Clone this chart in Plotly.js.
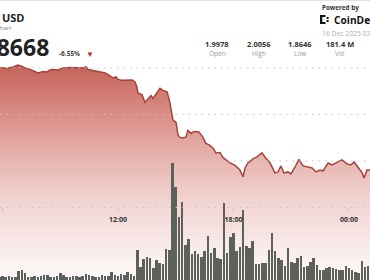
<!DOCTYPE html>
<html>
<head>
<meta charset="utf-8">
<script src="https://cdn.plot.ly/plotly-3.0.1.min.js"></script>
<style>
html,body{margin:0;padding:0;background:#fff;overflow:hidden;}
#chart{width:370px;height:280px;}
</style>
</head>
<body>
<div id="chart"></div>
<script>
// ---- data ----
const priceTimes = ['05:52','06:14','06:33','06:48','07:01','07:10','07:26','07:35','07:51','08:06','08:19','08:28','08:37','08:53','09:09','09:30','09:52','10:11','10:20','10:27','10:42','11:04','11:20','11:35','11:44','11:54','12:00','12:13','12:28','12:44','12:53','12:59','13:02','13:15','13:24','13:34','13:43','13:49','14:02','14:11','14:20','14:33','14:42','14:51','15:01','15:07','15:13','15:23','15:32','15:38','15:48','15:54','16:03','16:12','16:25','16:34','16:44','16:56','17:05','17:18','17:27','17:40','17:49','18:05','18:20','18:30','18:36','18:45','19:01','19:13','19:29','19:38','19:54','20:09','20:19','20:28','20:37','20:50','20:59','21:12','21:24','21:37','21:52','22:05','22:17','22:30','22:39','22:55','23:07','23:23','23:38','23:54','00:06','00:16','00:28','00:41','00:47','00:56','01:06'];
const prices = [2.0005,1.9995,2.0011,2.0032,2.0016,2.0000,1.9984,1.9968,1.9946,1.9962,1.9957,1.9978,1.9984,1.9978,2.0000,2.0005,2.0005,2.0000,2.0011,1.9984,1.9973,1.9962,1.9946,1.9914,1.9892,1.9903,1.9876,1.9866,1.9871,1.9871,1.9849,1.9796,1.9731,1.9710,1.9629,1.9672,1.9704,1.9672,1.9737,1.9780,1.9758,1.9742,1.9624,1.9441,1.9414,1.9280,1.9253,1.9247,1.9258,1.9328,1.9296,1.9312,1.9317,1.9312,1.9253,1.9188,1.9172,1.9140,1.9086,1.9091,1.9038,1.9005,1.8978,1.8952,1.8903,1.8828,1.8925,1.8978,1.9022,1.9043,1.9086,1.9043,1.8978,1.8871,1.8882,1.8946,1.8871,1.8882,1.8860,1.8935,1.9016,1.8946,1.8935,1.8925,1.8882,1.8903,1.8892,1.8978,1.8957,1.8989,1.9011,1.8968,1.8957,1.8989,1.8935,1.8871,1.8817,1.8903,1.8903];

// volume per 10-minute bar (millions), first bar at 05:50
const volStart = '2025-12-15T05:50:00';
const volumes = [0.3,0.4,0.3,0.4,0.3,0.3,0.9,1.0,0.7,0.3,
0.3,0.4,0.3,0.4,0.5,0.5,0.3,0.3,0.4,0.7,
0.5,0.3,0.3,0.4,0.4,0.3,0.4,0.6,0.5,0.4,
0.3,0.3,0.5,0.4,0.4,0.8,0.5,0.4,0.6,0.5,
0.8,0.6,0.4,3.0,1.3,2.1,2.3,2.2,1.2,2.0,
1.7,1.6,3.1,3.0,11.7,9.3,6.3,7.8,3.5,4.1,
2.6,2.9,2.6,2.3,2.9,4.4,2.7,3.2,2.2,2.1,
7.7,2.7,4.3,4.7,2.9,3.3,7.0,3.4,3.2,3.9,
1.6,1.6,1.7,1.7,3.0,4.7,2.9,2.2,2.0,1.4,
3.2,1.8,1.7,2.2,2.4,1.3,1.4,1.8,2.2,1.5,
1.0,1.0,1.2,1.3,1.2,1.1,1.0,1.0,1.4,1.2,
1.0,0.8,0.7,1.9,1.3,1.4,1.3];

const tickVals = ['2025-12-15 06:00','2025-12-15 12:00','2025-12-15 18:00','2025-12-16 00:00'];
const tickText = ['06:00','12:00','18:00','00:00'];
const priceGrid = [1.85,1.90,1.95,2.00];

const statValues = ['1.9978','2.0056','1.8646','181.4 M'];
const statLabels = ['Open','High','Low','Vol'];

// ---- build ----
const priceX = priceTimes.map(t => (parseInt(t.slice(0,2),10) < 5 ? '2025-12-16 ' : '2025-12-15 ') + t);
const t0 = Date.parse(volStart + 'Z');
const volX = volumes.map((v,i) => new Date(t0 + i*600000).toISOString().slice(0,16).replace('T',' '));

const W = 370, H = 280;
const px = x => x / W;
const py = y => 1 - y / H;

const FONT = 'Open Sans, Arial, sans-serif';

const traces = [
  {
    type: 'scatter', mode: 'lines', x: priceX, y: prices,
    line: {color: '#a9423b', width: 1.5},
    fill: 'tozeroy',
    fillgradient: {
      type: 'vertical', start: 1.772, stop: 2.0035,
      colorscale: [[0,'#fdf8f8'],[0.14,'#f9eceb'],[0.35,'#f2d6d4'],[0.56,'#e7b5b0'],[0.77,'#d98d86'],[1,'#c5625a']]
    },
    hoverinfo: 'skip', yaxis: 'y'
  },
  {
    type: 'bar', x: volX, y: volumes, yaxis: 'y2',
    width: 470000,
    marker: {color: '#5d615b', line: {width: 0}},
    hoverinfo: 'skip'
  }
];

const annotations = [];
function txt(text, x, y, size, color, opts) {
  opts = opts || {};
  annotations.push({
    text: text, xref: 'paper', yref: 'paper', x: px(x), y: py(y),
    xanchor: opts.xanchor || 'left', yanchor: 'middle', showarrow: false,
    font: {family: FONT, size: size, color: color, weight: opts.weight || 'normal'}
  });
}
txt('USD', 0, 17, 11, '#222', {weight: 'bold'});
txt('Chart', 13, 28.5, 6, '#888', {xanchor: 'right'});
txt('1.8668', 51, 47, 23, '#222', {xanchor: 'right', weight: 'bold'});
txt('-6.55%', 57, 54, 6.5, '#444', {weight: 'bold'});
txt('▼', 84, 54, 8, '#b8312b');
txt('Powered by', 320, 7, 6.3, '#333', {weight: 'bold'});
txt('CoinDesk', 331.5, 20, 10.2, '#111', {weight: 'bold'});
txt('16 Dec 2025 03:06', 319.5, 33, 6.8, '#b0b0b0');
const statX = [217, 259, 300, 340];
statValues.forEach((v,i) => {
  txt(v, statX[i], 43.5, 7.5, '#333', {xanchor: 'center', weight: 'bold'});
  txt(statLabels[i], statX[i], 53.5, 6.5, '#9a9a9a', {xanchor: 'center'});
});

const shapes = priceGrid.map(g => ({
  type: 'line', xref: 'paper', x0: 0, x1: 1, yref: 'y', y0: g, y1: g,
  line: {color: '#c4c4c4', width: 1, dash: '1.5px,5px'}, layer: 'above'
}));
// top border
shapes.push({type:'line', xref:'paper', yref:'paper', x0:0, x1:1, y0:py(0.5), y1:py(0.5), line:{color:'#e2e2e2', width:1}});
// CoinDesk mark
const lp = 'M '+px(320)+','+py(15)+' L '+px(325.5)+','+py(15)+' L '+px(325.5)+','+py(17)+' L '+px(322.3)+','+py(17)+' L '+px(322.3)+','+py(22)+' L '+px(325.5)+','+py(22)+' L '+px(325.5)+','+py(24)+' L '+px(320)+','+py(24)+' Z';
shapes.push({type:'path', xref:'paper', yref:'paper', path: lp, fillcolor:'#111', line:{width:0}});
shapes.push({type:'rect', xref:'paper', yref:'paper', x0:px(326.6), x1:px(328.6), y0:py(17), y1:py(19), fillcolor:'#111', line:{width:0}});
shapes.push({type:'rect', xref:'paper', yref:'paper', x0:px(326.6), x1:px(328.6), y0:py(20), y1:py(22), fillcolor:'#111', line:{width:0}});

const layout = {
  width: W, height: H,
  margin: {l: 0, r: 0, t: 0, b: 0, pad: 0},
  paper_bgcolor: '#fff', plot_bgcolor: '#fff',
  showlegend: false, hovermode: false,
  xaxis: {
    type: 'date', range: ['2025-12-15 05:52:11', '2025-12-16 01:05:30'],
    anchor: 'free', position: py(207.5),
    tickmode: 'array', tickvals: tickVals, ticktext: tickText,
    ticks: 'outside', ticklen: 2, tickcolor: '#bbb', tickwidth: 1,
    showgrid: false, showline: false, zeroline: false,
    tickfont: {family: FONT, size: 7, color: '#333', weight: 'bold'},
    ticklabelstandoff: 3,
    fixedrange: true
  },
  yaxis: {
    range: [1.772, 2.073], showgrid: false, showticklabels: false,
    zeroline: false, showline: false, ticks: '', fixedrange: true
  },
  yaxis2: {
    overlaying: 'y', range: [0, 28], showgrid: false, showticklabels: false,
    zeroline: false, showline: false, ticks: '', fixedrange: true
  },
  bargap: 0,
  annotations: annotations,
  shapes: shapes
};

Plotly.newPlot('chart', traces, layout, {displayModeBar: false, staticPlot: true});
</script>
</body>
</html>
